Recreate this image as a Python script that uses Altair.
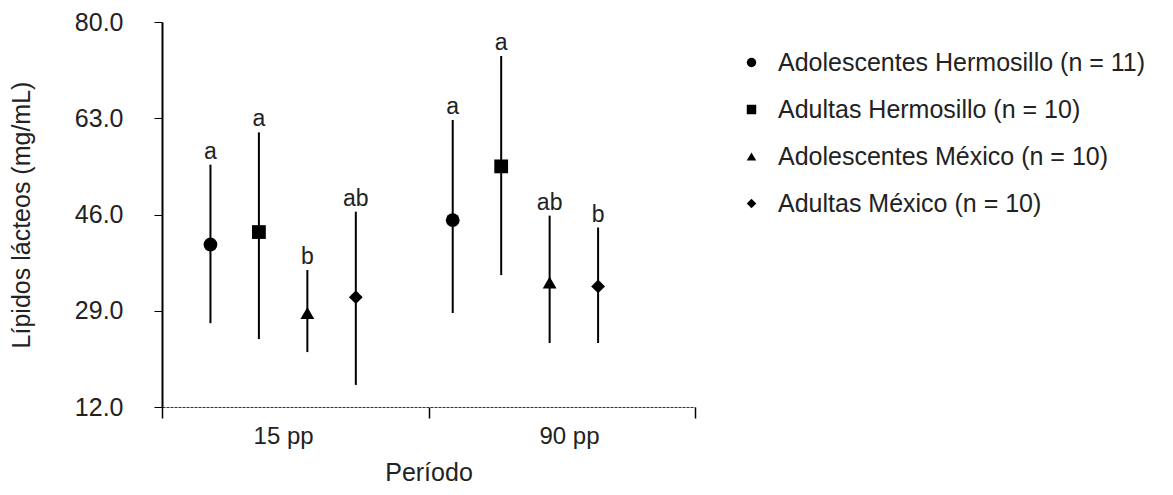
import altair as alt
import pandas as pd

series = [
    "Adolescentes Hermosillo (n = 11)",
    "Adultas Hermosillo (n = 10)",
    "Adolescentes México (n = 10)",
    "Adultas México (n = 10)",
]
periods = ["15 pp", "90 pp"]

means_15 = [40.7, 42.9, 28.6, 31.4]
upper_15 = [54.8, 60.5, 36.2, 46.5]
lower_15 = [26.8, 24.0, 21.7, 15.9]
letters_15 = ["a", "a", "b", "ab"]

means_90 = [45.0, 54.5, 34.0, 33.3]
upper_90 = [62.7, 74.0, 45.8, 43.7]
lower_90 = [28.6, 35.3, 23.3, 23.3]
letters_90 = ["a", "a", "ab", "b"]

y_major = [12, 29, 46, 63, 80]

rows = []
for g, (p, m, u, l, t) in enumerate(zip(periods,
                                         [means_15, means_90],
                                         [upper_15, upper_90],
                                         [lower_15, lower_90],
                                         [letters_15, letters_90])):
    for s, name in enumerate(series):
        rows.append({"periodo": p, "serie": name, "pos": g * 5 + s + 1,
                     "media": m[s], "sup": u[s], "inf": l[s], "letra": t[s]})
df = pd.DataFrame(rows)

FONT = "Liberation Sans"
x_label_pos = [2.5, 8.4]
x_expr = " : ".join(f"datum.value == {v} ? '{p}'" for v, p in zip(x_label_pos, periods)) + " : ''"
x_test = " || ".join(f"datum.value == {v}" for v in x_label_pos)

x_enc = alt.X("pos:Q", scale=alt.Scale(domain=[0, 11], nice=False, zero=False),
              axis=alt.Axis(values=[0, x_label_pos[0], 5.5, x_label_pos[1], 11],
                            labelExpr=x_expr, grid=False, title="Período",
                            tickOpacity={"condition": {"test": x_test, "value": 0}, "value": 1},
                            tickSize=11, tickColor="black", tickWidth=1.5,
                            domainColor="#333", domainWidth=1, domainDash=[3, 1],
                            labelFont=FONT, labelFontSize=24, labelPadding=6,
                            labelOverlap=False, labelFlush=False,
                            labelColor="#222", titleFont=FONT, titleFontSize=25,
                            titleFontWeight="normal", titleColor="#222", titlePadding=12))
y_scale = alt.Scale(domain=[12, 80], nice=False, zero=False)
y_axis = alt.Axis(values=y_major, format=".1f",
                  tickSize=8, tickColor="black", tickWidth=1,
                  labelOverlap=False, labelFlush=False,
                  grid=False, domainColor="black", domainWidth=2,
                  labelFont=FONT, labelFontSize=25, labelPadding=31, labelColor="#222",
                  title="Lípidos lácteos (mg/mL)", titleFont=FONT, titleFontSize=25,
                  titleFontWeight="normal", titleColor="#222", titlePadding=40)

base = alt.Chart(df)

bars = base.mark_rule(color="black", strokeWidth=2).encode(
    x=x_enc,
    y=alt.Y("inf:Q", scale=y_scale, axis=y_axis),
    y2="sup:Q",
)

points = base.mark_point(filled=True, opacity=1, color="black", size=190).encode(
    x="pos:Q",
    y="media:Q",
    shape=alt.Shape("serie:N", sort=series,
                    scale=alt.Scale(domain=series,
                                    range=["circle", "square", "triangle-up", "diamond"]),
                    legend=alt.Legend(title=None, orient="none", legendX=577, legendY=28,
                                      labelFont=FONT, labelFontSize=25, labelColor="#222",
                                      symbolSize=90, symbolFillColor="black",
                                      symbolStrokeColor="black", symbolType="circle",
                                      rowPadding=21, labelOffset=14, padding=0,
                                      labelLimit=600)),
)

letters = base.mark_text(font=FONT, fontSize=23, color="#222", baseline="alphabetic",
                         dy=-6).encode(
    x="pos:Q",
    y="sup:Q",
    text="letra:N",
)

chart = alt.layer(bars, points, letters).properties(
    width=533, height=385,
    autosize=alt.AutoSizeParams(type="none"),
    padding={"left": 154, "top": 14, "right": 470, "bottom": 80},
    background="white",
).configure_view(stroke=None)

chart.save("out.html", embed_options={"renderer": "svg", "actions": False})
